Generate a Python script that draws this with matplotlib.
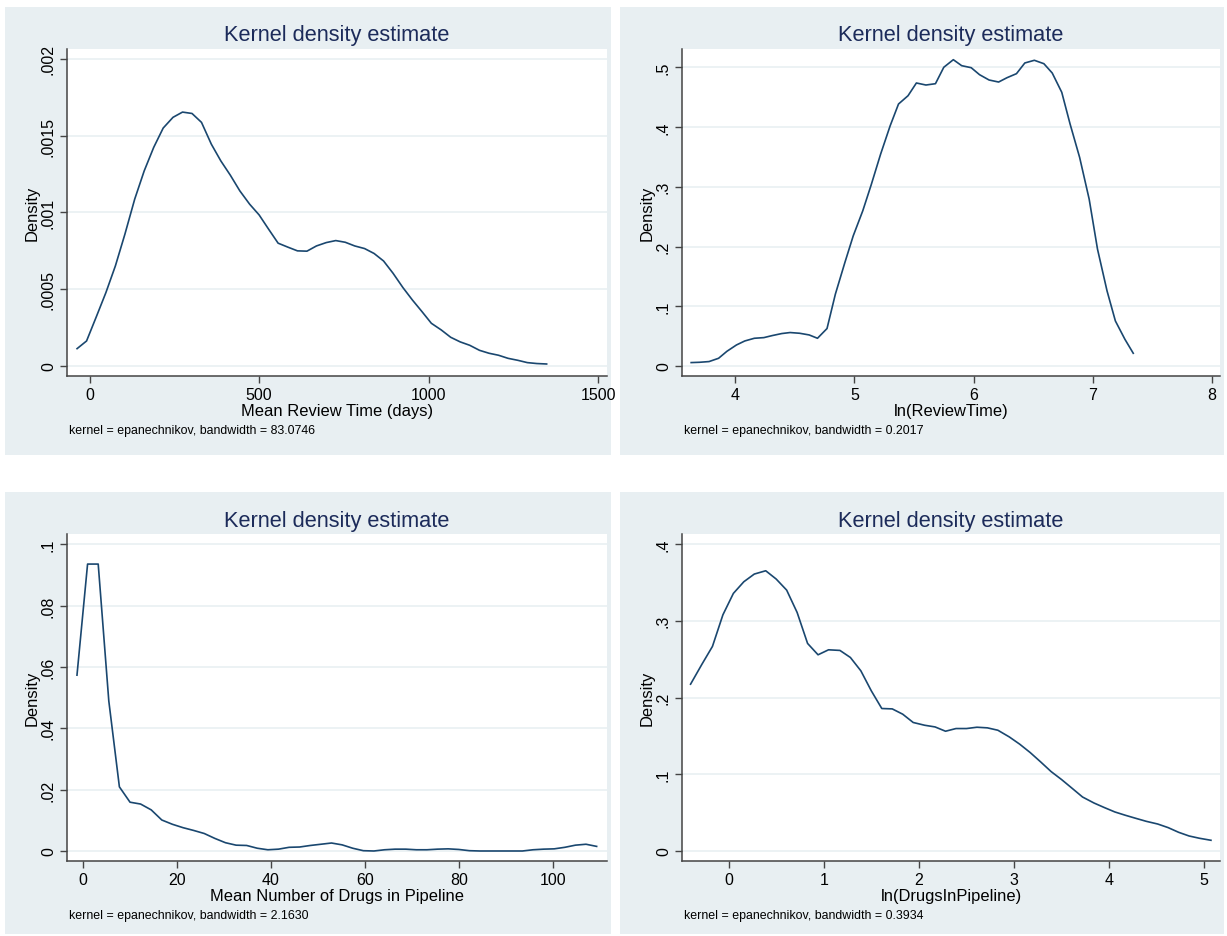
import numpy as np
import matplotlib
matplotlib.use("Agg")
import matplotlib.pyplot as plt
from matplotlib.patches import Rectangle

plt.rcParams['font.family'] = ['Liberation Sans', 'DejaVu Sans']

# --- data (50 evaluation points each) ---
review_x = [-37, -9, 20, 48, 76, 104, 133, 161, 189, 217, 246, 274, 302, 330, 359, 387, 415,
            443, 472, 500, 528, 556, 585, 613, 641, 669, 698, 726, 754, 782, 811, 839, 867,
            895, 924, 952, 980, 1008, 1037, 1065, 1093, 1121, 1150, 1178, 1206, 1234, 1263,
            1291, 1319, 1348]
review_d = [0.000113, 0.000163, 0.000322, 0.000478, 0.000652, 0.000858, 0.001087, 0.001271,
            0.001424, 0.00155, 0.00162, 0.001654, 0.001645, 0.001587, 0.001445, 0.001336,
            0.001243, 0.001141, 0.001054, 0.000984, 0.000891, 0.0008, 0.000774, 0.00075,
            0.000748, 0.000782, 0.000804, 0.000817, 0.000806, 0.000782, 0.000765, 0.000733,
            0.000684, 0.000604, 0.000511, 0.00043, 0.000355, 0.000278, 0.000235, 0.000187,
            0.000157, 0.000135, 0.000102, 0.000083, 0.00007, 0.00005, 0.000037, 0.000022,
            0.000016, 0.000013]

lnreview_x = [3.63, 3.70, 3.78, 3.86, 3.93, 4.01, 4.08, 4.16, 4.24, 4.31, 4.39, 4.46, 4.54,
              4.62, 4.69, 4.77, 4.84, 4.92, 4.99, 5.07, 5.14, 5.22, 5.30, 5.37, 5.45, 5.52,
              5.60, 5.68, 5.75, 5.83, 5.90, 5.98, 6.05, 6.13, 6.21, 6.28, 6.36, 6.43, 6.51,
              6.59, 6.66, 6.74, 6.81, 6.89, 6.97, 7.04, 7.12, 7.19, 7.27, 7.34]
lnreview_d = [0.0057, 0.0062, 0.0074, 0.0129, 0.0246, 0.0352, 0.0419, 0.0464, 0.0475, 0.0509,
              0.0543, 0.056, 0.0548, 0.052, 0.0464, 0.0627, 0.1202, 0.1733, 0.2179, 0.2598,
              0.3028, 0.3548, 0.4022, 0.4386, 0.4525, 0.4738, 0.4704, 0.4726, 0.5001, 0.5128,
              0.5028, 0.4994, 0.4877, 0.4788, 0.4754, 0.4826, 0.4894, 0.5073, 0.5118, 0.5061,
              0.4905, 0.4582, 0.405, 0.3492, 0.2794, 0.1956, 0.1257, 0.0754, 0.0447, 0.0213]

drugs_x = [-1.2, 1.05, 3.31, 5.56, 7.81, 10.07, 12.32, 14.57, 16.82, 19.08, 21.33, 23.58,
           25.84, 28.09, 30.34, 32.60, 34.85, 37.10, 39.35, 41.61, 43.86, 46.11, 48.37, 50.62,
           52.87, 55.13, 57.38, 59.63, 61.88, 64.14, 66.39, 68.64, 70.90, 73.15, 75.40, 77.66,
           79.91, 82.16, 84.41, 86.67, 88.92, 91.17, 93.43, 95.68, 97.93, 100.19, 102.44,
           104.69, 106.94, 109.2]
drugs_d = [0.0573, 0.0935, 0.0935, 0.0489, 0.0209, 0.0159, 0.0153, 0.0134, 0.0101, 0.0087,
           0.0076, 0.0067, 0.0057, 0.0041, 0.0027, 0.0019, 0.0018, 0.0009, 0.0004, 0.0006,
           0.0012, 0.0013, 0.0018, 0.0022, 0.0026, 0.002, 0.0009, 0.0001, 0.0, 0.0004, 0.0006,
           0.0006, 0.0004, 0.0004, 0.0006, 0.0007, 0.0005, 0.0001, 0.0, 0.0, 0.0, 0.0, 0.0,
           0.0004, 0.0006, 0.0007, 0.0012, 0.0019, 0.0022, 0.0015]

lndrugs_x = [-0.40, -0.28, -0.17, -0.06, 0.05, 0.16, 0.27, 0.39, 0.50, 0.61, 0.72, 0.83, 0.94,
             1.05, 1.17, 1.28, 1.39, 1.50, 1.61, 1.72, 1.83, 1.94, 2.06, 2.17, 2.28, 2.39,
             2.50, 2.61, 2.72, 2.83, 2.95, 3.06, 3.17, 3.28, 3.39, 3.50, 3.61, 3.72, 3.84,
             3.95, 4.06, 4.17, 4.28, 4.39, 4.51, 4.62, 4.73, 4.84, 4.95, 5.07]
lndrugs_d = [0.2174, 0.2435, 0.2666, 0.3078, 0.3357, 0.3509, 0.3609, 0.3652, 0.3544, 0.34,
             0.3109, 0.2705, 0.2557, 0.2622, 0.2614, 0.2522, 0.2348, 0.2087, 0.1857, 0.1852,
             0.1783, 0.1675, 0.1639, 0.1617, 0.1561, 0.1596, 0.1596, 0.1613, 0.1605, 0.1574,
             0.1487, 0.1392, 0.1283, 0.1161, 0.1035, 0.0931, 0.0818, 0.0704, 0.0626, 0.0566,
             0.0509, 0.0466, 0.0426, 0.0387, 0.0352, 0.0305, 0.0244, 0.0196, 0.0166, 0.014]

# tick positions / labels (Stata style)
review_yt = [0, 0.0005, 0.001, 0.0015, 0.002]
review_yl = ['0', '.0005', '.001', '.0015', '.002']
review_xt = [0, 500, 1000, 1500]
lnreview_yt = [0, 0.1, 0.2, 0.3, 0.4, 0.5]
lnreview_yl = ['0', '.1', '.2', '.3', '.4', '.5']
lnreview_xt = [4, 5, 6, 7, 8]
drugs_yt = [0, 0.02, 0.04, 0.06, 0.08, 0.1]
drugs_yl = ['0', '.02', '.04', '.06', '.08', '.1']
drugs_xt = [0, 20, 40, 60, 80, 100]
lndrugs_yt = [0, 0.1, 0.2, 0.3, 0.4]
lndrugs_yl = ['0', '.1', '.2', '.3', '.4']
lndrugs_xt = [0, 1, 2, 3, 4, 5]

W, H = 1227, 937
BG = '#e8eff2'
LINE = '#1a476f'
TITLE = '#1c2b5a'

fig = plt.figure(figsize=(W / 100, H / 100), dpi=100)
fig.patch.set_facecolor('white')


def px(x, y):
    return x / W, 1 - y / H


def panel(x0, y0, x1, y1, xs, ys, xt, yt, yl, xlim, ylim, xlabel, note):
    # graph region background
    fig.patches.append(Rectangle(px(x0, y1), (x1 - x0) / W, (y1 - y0) / H,
                                 transform=fig.transFigure, facecolor=BG,
                                 edgecolor='none', zorder=-10))
    al, ar, at, ab = x0 + 62, x1 - 4, y0 + 42, y0 + 369
    ax = fig.add_axes([al / W, 1 - ab / H, (ar - al) / W, (ab - at) / H])
    ax.set_zorder(5)
    ax.set_facecolor('white')
    for ty in yt:
        ax.axhline(ty, color='#eaf1f3', lw=1.3, zorder=1)
    ax.plot(xs, ys, color=LINE, lw=1.2, zorder=3)
    ax.set_xlim(*xlim)
    ax.set_ylim(*ylim)
    ax.set_xticks(xt)
    ax.set_xticklabels([str(v) for v in xt])
    ax.set_yticks(yt)
    ax.set_yticklabels(yl, rotation=90, va='center')
    for s in ['top', 'right']:
        ax.spines[s].set_visible(False)
    for s in ['left', 'bottom']:
        ax.spines[s].set_color('#444444')
        ax.spines[s].set_linewidth(1.1)
    ax.tick_params(axis='both', direction='out', length=5, width=1.0, color='#444444',
                   labelsize=11.5, labelcolor='black', pad=3)
    fig.text((al + ar) / 2 / W, 1 - (y0 + 28) / H, 'Kernel density estimate',
             ha='center', va='center', fontsize=15.7, color=TITLE)
    fig.text((al + ar) / 2 / W, 1 - (y0 + 404) / H, xlabel,
             ha='center', va='center', fontsize=11.9, color='black')
    fig.text((x0 + 27) / W, 1 - (y0 + 205) / H, 'Density', rotation=90,
             ha='center', va='center', fontsize=11.9, color='black')
    fig.text((al + 2) / W, 1 - (y0 + 423) / H, note,
             ha='left', va='center', fontsize=8.9, color='black')
    return ax


panel(5, 8, 611, 456, review_x, review_d, review_xt, review_yt, review_yl,
      (-66.7, 1526), (-0.0000652, 0.002065), 'Mean Review Time (days)',
      'kernel = epanechnikov, bandwidth = 83.0746')
panel(620, 8, 1224, 456, lnreview_x, lnreview_d, lnreview_xt, lnreview_yt, lnreview_yl,
      (3.553, 8.068), (-0.01676, 0.5307), 'ln(ReviewTime)',
      'kernel = epanechnikov, bandwidth = 0.2017')
panel(5, 493, 611, 935, drugs_x, drugs_d, drugs_xt, drugs_yt, drugs_yl,
      (-3.32, 111.4), (-0.00326, 0.1033), 'Mean Number of Drugs in Pipeline',
      'kernel = epanechnikov, bandwidth = 2.1630')
panel(620, 493, 1224, 935, lndrugs_x, lndrugs_d, lndrugs_xt, lndrugs_yt, lndrugs_yl,
      (-0.49, 5.165), (-0.013, 0.4131), 'ln(DrugsInPipeline)',
      'kernel = epanechnikov, bandwidth = 0.3934')

fig.savefig('out.png', dpi=100, facecolor='white')
